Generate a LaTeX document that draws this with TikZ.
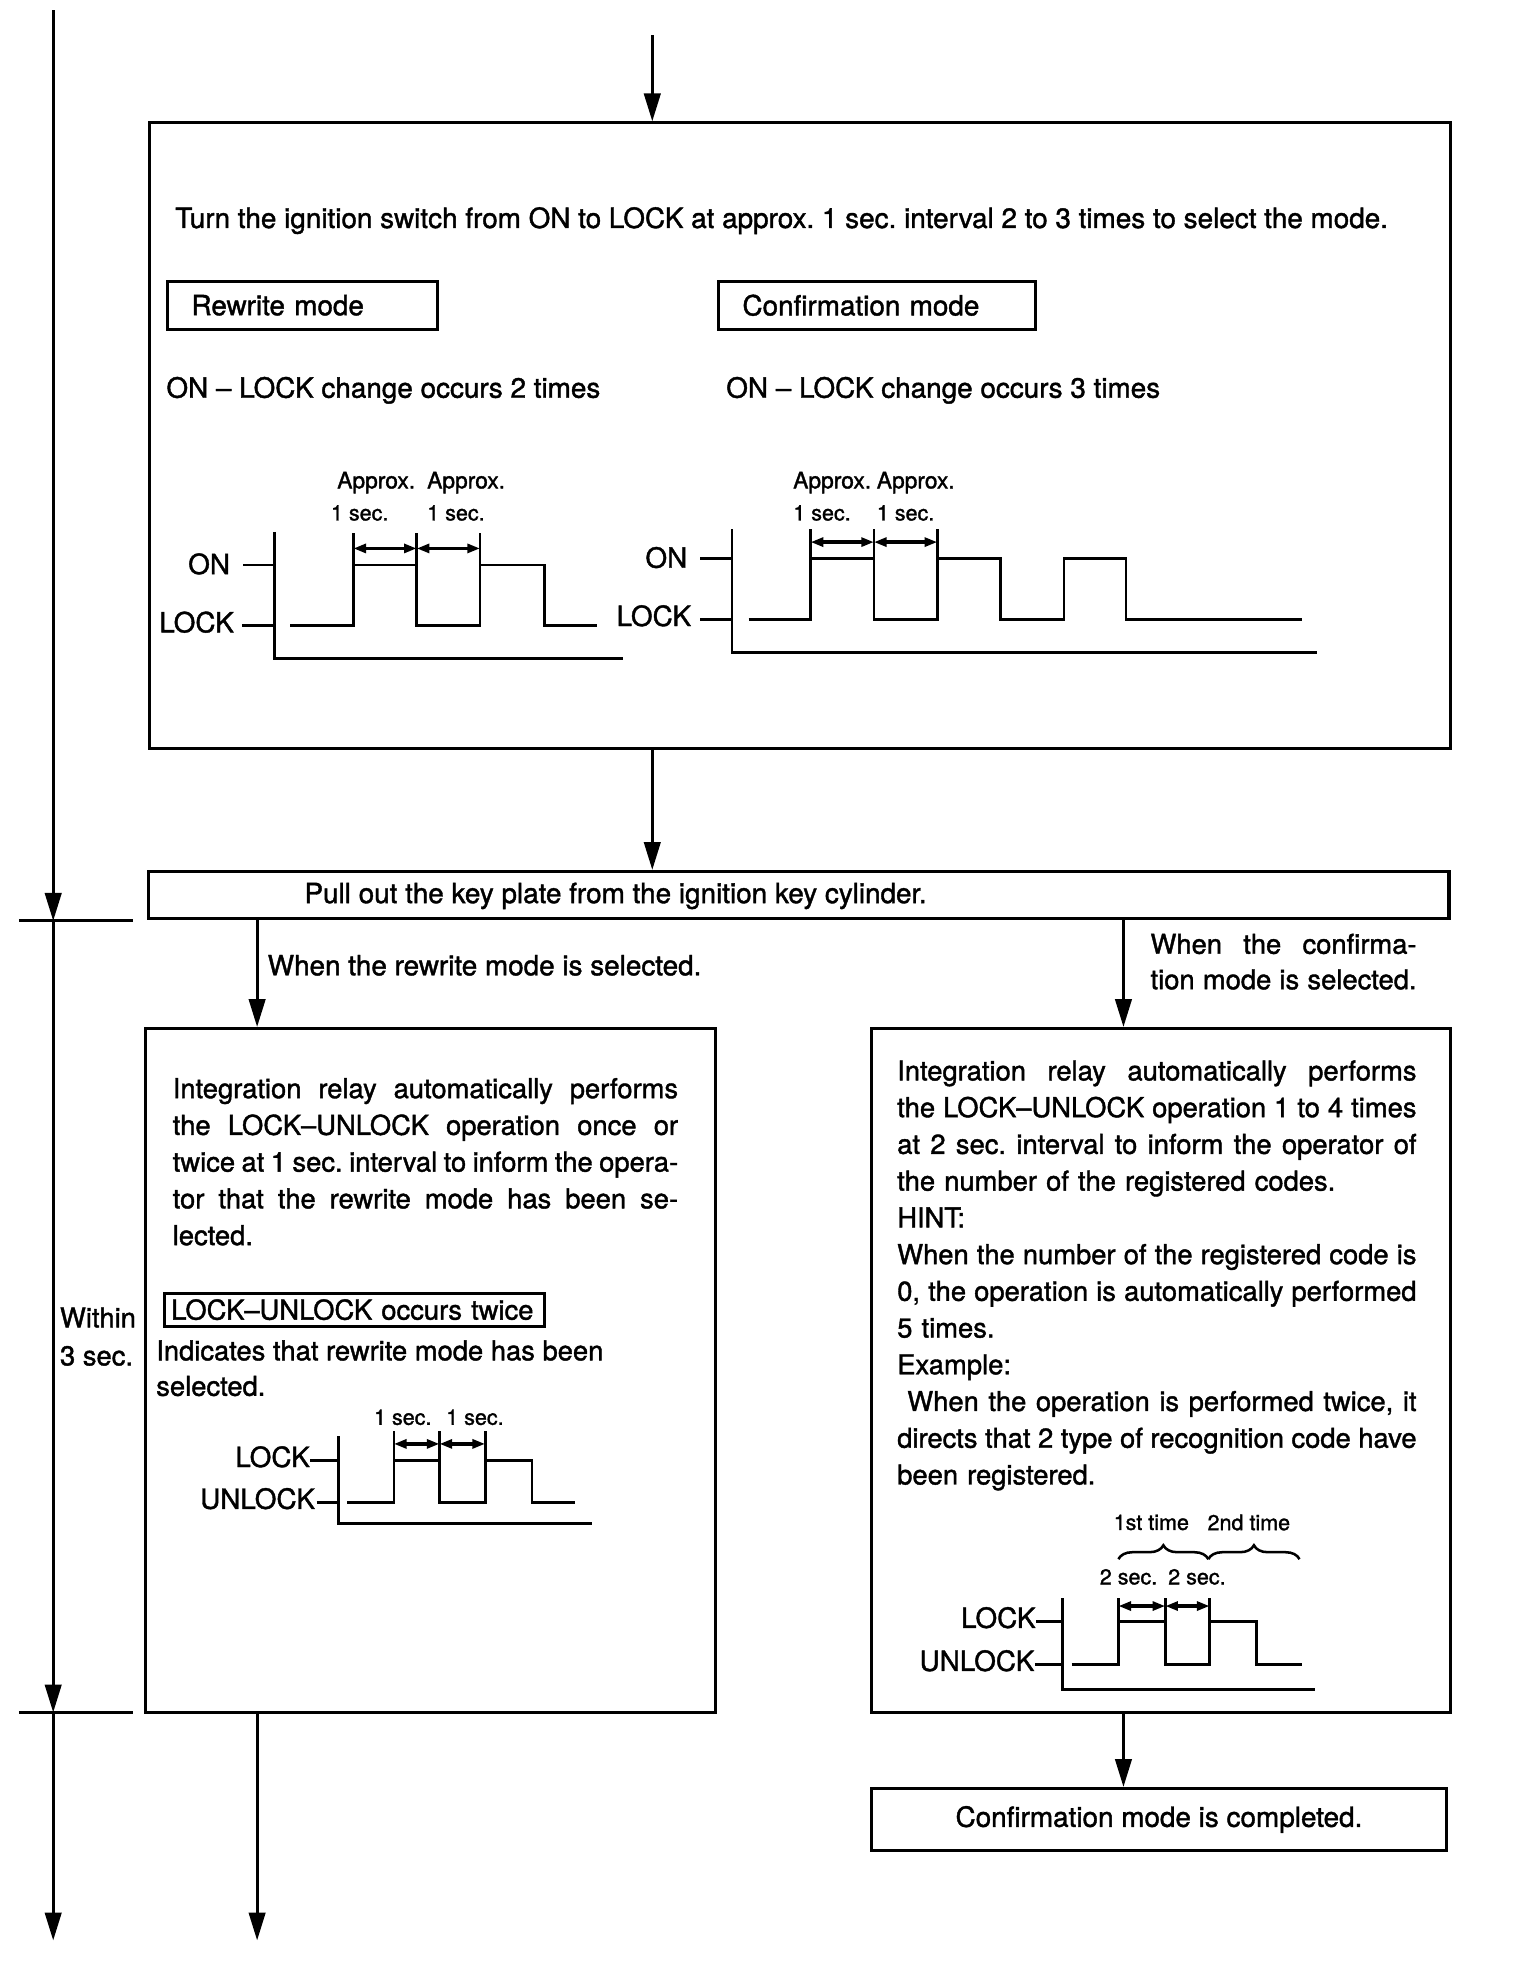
\documentclass[tikz,border=0pt]{standalone}
\usepackage{fontspec}
\setmainfont{TeX Gyre Heros}[FakeBold=1.4]
\usetikzlibrary{arrows.meta, positioning, decorations.pathreplacing}

\newcommand{\jl}[1]{{\spaceskip=0pt\xspaceskip=0pt\relax\makebox[\hsize][s]{#1}}}
\frenchspacing

\begin{document}
\begin{tikzpicture}[x=0.5pt, y=-0.5pt,
    >={Triangle[length=11pt, width=6.5pt]},
    box/.style={draw, line width=1.2pt, inner sep=0pt},
    txt/.style={font=\fontsize{10.8}{14.5}\selectfont, inner sep=0pt},
    big/.style={font=\fontsize{11}{14.5}\selectfont, inner sep=0pt},
    small/.style={font=\fontsize{8.5}{10}\selectfont, inner sep=0pt},
    flow/.style={->, line width=1.1pt},
    wave/.style={line width=1.1pt},
    dim/.style={{Triangle[length=5pt, width=3.5pt]}-{Triangle[length=5pt, width=3.5pt]}, line width=1.3pt},
    brc/.style={decorate, decoration={brace, amplitude=5.5pt}, line width=1pt},
]
\useasboundingbox (0,0) rectangle (1200,1568);

% time scale on the left
\coordinate (t0) at (42,8);
\coordinate (t1) at (42,727);
\coordinate (t2) at (42,1352);
\coordinate (t3) at (42,1532);
\draw[flow] (t0) -- (t1);
\draw[flow] (t1) -- (t2);
\draw[flow] (t2) -- (t3);
\draw[wave] (15,727) -- (105,727);
\draw[wave] (15,1352) -- (105,1352);
\node[txt, anchor=base west] (w3a) at (47,1048) {Within};
\node[txt, anchor=base west] (w3b) at (47,1078) {3 sec.};

% mode selection
\coordinate (topin) at (515,28);
\node[box, minimum width=513.5pt, minimum height=247pt] (sel) at (631.5,344) {};
\draw[flow] (topin) -- (topin |- sel.north);
\node[big, anchor=base west] (turn) at (138,180) {Turn the ignition switch from ON to LOCK at approx. 1 sec. interval 2 to 3 times to select the mode.};
\node[box, big, anchor=west, text width=87.5pt, inner xsep=9.5pt, minimum height=19pt, align=left] (rw) at (131,241) {Rewrite mode};
\node[box, big, anchor=west, text width=106pt, inner xsep=9.5pt, minimum height=19pt, align=left] (cf) at (566,241) {Confirmation mode};
\node[big, anchor=base west] (rwn) at (131,314) {ON – LOCK change occurs 2 times};
\node[big, anchor=base west] (cfn) at (573,314) {ON – LOCK change occurs 3 times};

% timing chart, rewrite mode
\node[small, font=\fontsize{9}{10}\selectfont] (ap1) at (297,381) {Approx.};
\node[small, font=\fontsize{9}{10}\selectfont] (ap2) at (368,381) {Approx.};
\node[small] (sc1) at (284,405) {1 sec.};
\node[small] (sc2) at (360,405) {1 sec.};
\node[big, anchor=mid east] (on1) at (182,448) {ON};
\node[big, anchor=mid east] (lk1) at (185,494) {LOCK};
\draw[wave] (217,420) -- (217,520) -- (492,520);
\draw[wave] (192,446) -- (217,446);
\draw[wave] (191,494) -- (217,494);
\draw[wave] (229,494) -| (279,446) -| (329,494) -| (379,446) -| (430,494) -- (471,494);
\draw[wave] (279,446) -- (279,421) (329,446) -- (329,421) (379,446) -- (379,421);
\draw[dim] (279,433) -- (329,433);
\draw[dim] (329,433) -- (379,433);

% timing chart, confirmation mode
\node[small, font=\fontsize{9}{10}\selectfont] (ap3) at (657,381) {Approx.};
\node[small, font=\fontsize{9}{10}\selectfont] (ap4) at (723,381) {Approx.};
\node[small] (sc3) at (649,405) {1 sec.};
\node[small] (sc4) at (715,405) {1 sec.};
\node[big, anchor=mid east] (on2) at (543,443) {ON};
\node[big, anchor=mid east] (lk2) at (546,489) {LOCK};
\draw[wave] (578,418) -- (578,515) -- (1040,515);
\draw[wave] (553,441) -- (578,441);
\draw[wave] (553,489) -- (578,489);
\draw[wave] (591,489) -| (640,441) -| (690,489) -| (740,441) -| (790,489) -| (840,441) -| (889,489) -- (1028,489);
\draw[wave] (640,441) -- (640,418) (690,441) -- (690,418) (740,441) -- (740,418);
\draw[dim] (640,428) -- (690,428);
\draw[dim] (690,428) -- (740,428);

% key plate
\node[box, minimum width=513.5pt, minimum height=18.5pt] (pull) at (630.5,706.5) {};
\node[big, anchor=base west] (pulltxt) at (240,713) {Pull out the key plate from the ignition key cylinder.};
\draw[flow] (sel.south -| topin) -- (pull.north -| topin);

% the two branches
\coordinate (lx) at (203,1532);
\coordinate (rx) at (887,0);
\node[box, minimum width=225pt, minimum height=270pt] (rwbox) at (340,1082) {};
\node[box, minimum width=228.5pt, minimum height=270pt] (cfbox) at (916.5,1082) {};
\draw[flow] (pull.south -| lx) -- (rwbox.north -| lx);
\draw[flow] (pull.south -| rx) -- (cfbox.north -| rx);
\node[big, anchor=base west] (rwif) at (211,770) {When the rewrite mode is selected.};
\node[txt, anchor=base west, text width=105pt, align=left] (cfif) at (908,753) {\jl{When the confirma-}\\[-0.5pt]\jl{tion mode is selected.}};

% rewrite mode box
\node[txt, anchor=base west, text width=199.5pt, align=left] (rwpar) at (136,867) {%
\jl{Integration relay automatically performs}\\
\jl{the LOCK–UNLOCK operation once or}\\
\jl{twice at 1 sec. interval to inform the opera-}\\
\jl{tor that the rewrite mode has been se-}\\
lected.};
\node[box, txt, anchor=west, text width=145pt, inner xsep=2.5pt, minimum height=13pt, align=left] (twice) at (129,1034) {LOCK–UNLOCK occurs twice};
\node[txt, anchor=base west, align=left] (ind1) at (123,1074) {Indicates that rewrite mode has been};
\node[txt, anchor=base west, align=left] (ind2) at (123,1102) {selected.};
\node[small] (sc5) at (318,1119) {1 sec.};
\node[small] (sc6) at (375,1119) {1 sec.};
\node[big, anchor=mid east] (lk3) at (245,1153) {LOCK};
\node[big, anchor=mid east] (ul3) at (249,1186) {UNLOCK};
\draw[wave] (267,1134) -- (267,1203) -- (467,1203);
\draw[wave] (245,1153) -- (267,1153);
\draw[wave] (250,1186) -- (267,1186);
\draw[wave] (274,1186) -| (311,1153) -| (347,1186) -| (383,1153) -| (420,1186) -- (454,1186);
\draw[wave] (311,1153) -- (311,1130) (347,1153) -- (347,1130) (383,1153) -- (383,1130);
\draw[dim] (311,1140) -- (347,1140);
\draw[dim] (347,1140) -- (383,1140);

% confirmation mode box
\node[txt, anchor=base west, text width=205pt, align=left] (cfpar) at (708,853) {%
\jl{Integration relay automatically performs}\\
\jl{the LOCK–UNLOCK operation 1 to 4 times}\\
\jl{at 2 sec. interval to inform the operator of}\\
the number of the registered codes.\\
HINT:\\
\jl{When the number of the registered code is}\\
\jl{0, the operation is automatically performed}\\
5 times.\\
Example:\\
\jl{\hspace*{4pt}When the operation is performed twice, it}\\
\jl{directs that 2 type of recognition code have}\\
been registered.};
\node[small] (t1st) at (909,1202) {1st time};
\node[small] (t2nd) at (986,1202) {2nd time};
\draw[brc] (883,1231) -- (954,1231);
\draw[brc] (954,1231) -- (1026,1231);
\node[small] (sc7) at (891,1245) {2 sec.};
\node[small] (sc8) at (945,1245) {2 sec.};
\node[big, anchor=mid east] (lk4) at (818,1280) {LOCK};
\node[big, anchor=mid east] (ul4) at (817,1314) {UNLOCK};
\draw[wave] (839,1262) -- (839,1334) -- (1038,1334);
\draw[wave] (818,1280) -- (839,1280);
\draw[wave] (817,1314) -- (839,1314);
\draw[wave] (846,1314) -| (883,1280) -| (920,1314) -| (955,1280) -| (992,1314) -- (1028,1314);
\draw[wave] (883,1280) -- (883,1262) (920,1280) -- (920,1262) (955,1280) -- (955,1262);
\draw[dim] (883,1268) -- (920,1268);
\draw[dim] (920,1268) -- (955,1268);

% ends
\node[box, big, minimum width=227pt, minimum height=24.5pt] (done) at (915,1436.5) {Confirmation mode is completed.};
\draw[flow] (cfbox.south -| rx) -- (done.north -| rx);
\draw[flow] (rwbox.south -| lx) -- (lx);
\end{tikzpicture}
\end{document}
